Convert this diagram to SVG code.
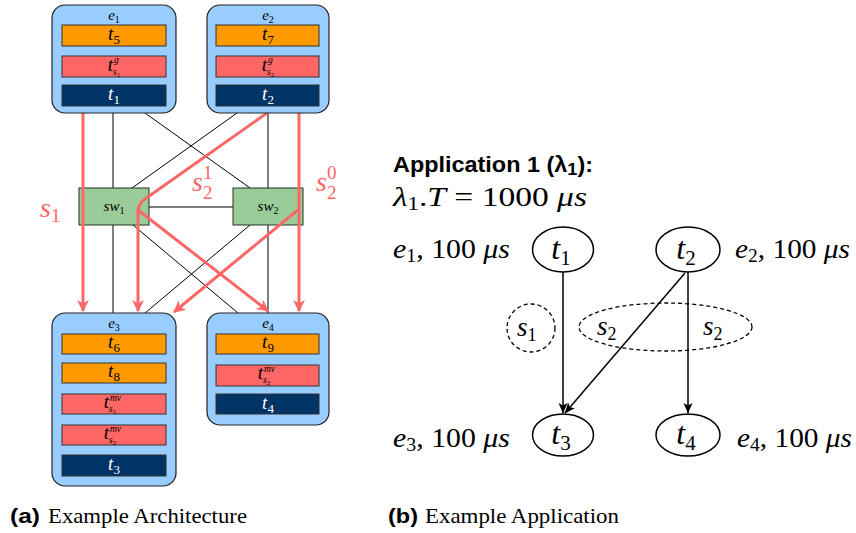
<svg xmlns="http://www.w3.org/2000/svg" width="856" height="533" viewBox="0 0 856 533">
<defs>
<marker id="redArrow" markerUnits="userSpaceOnUse" markerWidth="14" markerHeight="14" viewBox="0 0 14 14" refX="12" refY="7" orient="auto">
<path d="M1,1 L13,7 L1,13 L4.5,7 z" fill="#ff6666"/>
</marker>
<marker id="blkArrow" markerUnits="userSpaceOnUse" markerWidth="12" markerHeight="12" viewBox="0 0 12 12" refX="11" refY="6" orient="auto">
<path d="M1,1.5 L11.5,6 L1,10.5 L3.5,6 z" fill="#000"/>
</marker>
</defs>
<style>
.dev{fill:#99ccff;stroke:#222;stroke-width:1.2}
.bar{stroke:#333;stroke-width:1}
.or{fill:#ff9900}
.rd{fill:#ff6666}
.nv{fill:#003366}
.sw{fill:#99cc99;stroke:#223322;stroke-width:1}
.link{stroke:#000;stroke-width:1;fill:none}
.flow{stroke:#ff6666;stroke-width:3;fill:none}
.m{font-family:"Liberation Serif",serif;font-style:italic}
.u{font-style:normal}
.lbl{font-family:"Liberation Serif",serif;font-style:italic;font-size:19px;text-anchor:middle;fill:#000}
.elbl{font-family:"Liberation Serif",serif;font-style:italic;font-size:15px;text-anchor:middle}
.tl{font-family:"Liberation Serif",serif;font-style:italic;font-size:19px;text-anchor:end}
.sc{font-family:"Liberation Serif",serif;font-style:italic;font-size:9.5px}
.wl{fill:#fff}
.red{fill:#ff6666}
.node{fill:#fff;stroke:#000;stroke-width:1.5}
.edge{stroke:#000;stroke-width:1.5;fill:none}
.dash{fill:none;stroke:#000;stroke-width:1.3;stroke-dasharray:4,3}
</style>

<g id="connectors">
<line class="link" x1="113" y1="113" x2="113" y2="188"/>
<line class="link" x1="113" y1="225" x2="113" y2="313"/>
<line class="link" x1="268" y1="113" x2="268" y2="188"/>
<line class="link" x1="268" y1="225" x2="268" y2="313"/>
<line class="link" x1="145" y1="113" x2="250" y2="188"/>
<line class="link" x1="237" y1="113" x2="132" y2="188"/>
<line class="link" x1="149" y1="207" x2="233" y2="207"/>
<line class="link" x1="133" y1="225" x2="238" y2="313"/>
<line class="link" x1="250" y1="225" x2="145" y2="313"/>
</g>

<g id="sw1"><rect class="sw" x="79" y="188" width="70" height="37"/><text class="m" x="114" y="211" font-size="15" text-anchor="middle">sw<tspan dy="3" font-size="10" class="u">1</tspan></text></g>
<g id="sw2"><rect class="sw" x="233" y="188" width="70" height="37"/><text class="m" x="268" y="211" font-size="15" text-anchor="middle">sw<tspan dy="3" font-size="10" class="u">2</tspan></text></g>

<g id="flows">
<line class="flow" x1="83" y1="113" x2="83" y2="311" marker-end="url(#redArrow)"/>
<line class="flow" x1="299" y1="113" x2="299" y2="311" marker-end="url(#redArrow)"/>
<path class="flow" d="M267,113 L145,199 Q138,204 138,212 L138,311" marker-end="url(#redArrow)"/>
<line class="flow" x1="138" y1="210" x2="268" y2="311" marker-end="url(#redArrow)"/>
<line class="flow" x1="299" y1="209" x2="174" y2="312" marker-end="url(#redArrow)"/>
<text class="m red" x="40" y="217" font-size="28">s<tspan class="u" dy="5" font-size="19">1</tspan></text>
<text class="m red" x="192" y="191" font-size="28">s<tspan class="u" dy="-12" font-size="19">1</tspan><tspan class="u" dx="-9.5" dy="20" font-size="19">2</tspan></text>
<text class="m red" x="316" y="191" font-size="28">s<tspan class="u" dy="-12" font-size="19">0</tspan><tspan class="u" dx="-9.5" dy="20" font-size="19">2</tspan></text>
</g>

<g id="e1">
<rect class="dev" x="52" y="5" width="124" height="108" rx="13"/>
<text class="elbl" x="114" y="20">e<tspan class="u" dy="3" font-size="10">1</tspan></text>
<rect class="bar or" x="62" y="25" width="104" height="21"/>
<text class="lbl" x="114" y="40">t<tspan class="u" dy="4" font-size="13">5</tspan></text>
<rect class="bar rd" x="62" y="56" width="104" height="21"/>
<text class="tl" x="113" y="71">t</text><text class="sc" x="114" y="63">g</text><text class="sc" x="113" y="74.5">s<tspan class="u" dy="2" font-size="7">1</tspan></text>
<rect class="bar nv" x="62" y="85" width="104" height="21"/>
<text class="lbl wl" x="114" y="100">t<tspan class="u" dy="4" font-size="13">1</tspan></text>
</g>

<g id="e2">
<rect class="dev" x="207" y="5" width="122" height="108" rx="13"/>
<text class="elbl" x="268" y="20">e<tspan class="u" dy="3" font-size="10">2</tspan></text>
<rect class="bar or" x="216" y="25" width="103" height="21"/>
<text class="lbl" x="268" y="40">t<tspan class="u" dy="4" font-size="13">7</tspan></text>
<rect class="bar rd" x="216" y="56" width="103" height="21"/>
<text class="tl" x="267" y="71">t</text><text class="sc" x="268" y="63">g</text><text class="sc" x="267" y="74.5">s<tspan class="u" dy="2" font-size="7">2</tspan></text>
<rect class="bar nv" x="216" y="85" width="103" height="21"/>
<text class="lbl wl" x="268" y="100">t<tspan class="u" dy="4" font-size="13">2</tspan></text>
</g>

<g id="e3">
<rect class="dev" x="52" y="313" width="124" height="173" rx="13"/>
<text class="elbl" x="114" y="328">e<tspan class="u" dy="3" font-size="10">3</tspan></text>
<rect class="bar or" x="62" y="334" width="104" height="20"/>
<text class="lbl" x="114" y="348">t<tspan class="u" dy="4" font-size="13">6</tspan></text>
<rect class="bar or" x="62" y="363" width="104" height="20"/>
<text class="lbl" x="114" y="377">t<tspan class="u" dy="4" font-size="13">8</tspan></text>
<rect class="bar rd" x="62" y="394" width="104" height="20"/>
<text class="tl" x="109" y="408">t</text><text class="sc" x="110" y="401">mv</text><text class="sc" x="109" y="412">s<tspan class="u" dy="2" font-size="7">1</tspan></text>
<rect class="bar rd" x="62" y="425" width="104" height="20"/>
<text class="tl" x="109" y="439">t</text><text class="sc" x="110" y="432">mv</text><text class="sc" x="109" y="443">s<tspan class="u" dy="2" font-size="7">2</tspan></text>
<rect class="bar nv" x="62" y="455" width="104" height="21"/>
<text class="lbl wl" x="114" y="470">t<tspan class="u" dy="4" font-size="13">3</tspan></text>
</g>

<g id="e4">
<rect class="dev" x="207" y="313" width="122" height="112" rx="13"/>
<text class="elbl" x="268" y="328">e<tspan class="u" dy="3" font-size="10">4</tspan></text>
<rect class="bar or" x="216" y="334" width="103" height="20"/>
<text class="lbl" x="268" y="348">t<tspan class="u" dy="4" font-size="13">9</tspan></text>
<rect class="bar rd" x="216" y="365" width="103" height="21"/>
<text class="tl" x="263" y="379">t</text><text class="sc" x="264" y="372">mv</text><text class="sc" x="263" y="383">s<tspan class="u" dy="2" font-size="7">2</tspan></text>
<rect class="bar nv" x="216" y="394" width="103" height="20"/>
<text class="lbl wl" x="268" y="409">t<tspan class="u" dy="4" font-size="13">4</tspan></text>
</g>

<g id="title">
<text x="393" y="172" font-family="'Liberation Sans',sans-serif" font-weight="bold" font-size="22" textLength="200" lengthAdjust="spacingAndGlyphs">Application 1 (λ<tspan dy="3" font-size="17">1</tspan><tspan dy="-3">):</tspan></text>
<text class="m" x="393" y="206" font-size="28" textLength="194" lengthAdjust="spacingAndGlyphs">λ<tspan class="u" dy="4" font-size="19">1</tspan><tspan class="u" dy="-4">.</tspan>T<tspan class="u"> = 1000 </tspan>μs</text>
</g>

<g id="app-connectors">
<line class="edge" x1="563" y1="272" x2="563" y2="413" marker-end="url(#blkArrow)"/>
<line class="edge" x1="688" y1="272" x2="688" y2="413" marker-end="url(#blkArrow)"/>
<line class="edge" x1="685" y1="273" x2="565" y2="413" marker-end="url(#blkArrow)"/>
</g>

<g id="s1grp"><ellipse class="dash" cx="531" cy="328" rx="24" ry="24"/><text class="m" x="517" y="336" font-size="27">s<tspan class="u" dy="5" font-size="18">1</tspan></text></g>
<g id="s2grp"><ellipse class="dash" cx="665.5" cy="327" rx="86.5" ry="24"/>
<text class="m" x="597" y="335" font-size="27">s<tspan class="u" dy="5" font-size="18">2</tspan></text>
<text class="m" x="703" y="335" font-size="27">s<tspan class="u" dy="5" font-size="18">2</tspan></text></g>

<g id="t1"><ellipse class="node" cx="563" cy="249.5" rx="30.5" ry="22.5"/><text class="m" x="561" y="259" font-size="32" text-anchor="middle">t<tspan class="u" dy="6" font-size="21">1</tspan></text></g>
<g id="t2"><ellipse class="node" cx="688" cy="249.5" rx="32" ry="22.5"/><text class="m" x="686" y="259" font-size="32" text-anchor="middle">t<tspan class="u" dy="6" font-size="21">2</tspan></text></g>
<g id="t3"><ellipse class="node" cx="563" cy="435" rx="30.5" ry="21"/><text class="m" x="561" y="444" font-size="32" text-anchor="middle">t<tspan class="u" dy="6" font-size="21">3</tspan></text></g>
<g id="t4"><ellipse class="node" cx="688" cy="435" rx="32" ry="21"/><text class="m" x="686" y="444" font-size="32" text-anchor="middle">t<tspan class="u" dy="6" font-size="21">4</tspan></text></g>

<g id="labels">
<text class="m" x="393" y="258" font-size="27" textLength="117" lengthAdjust="spacingAndGlyphs">e<tspan class="u" dy="4" font-size="18">1</tspan><tspan class="u" dy="-4">, 100 </tspan>μs</text>
<text class="m" x="735" y="258" font-size="27" textLength="115" lengthAdjust="spacingAndGlyphs">e<tspan class="u" dy="4" font-size="18">2</tspan><tspan class="u" dy="-4">, 100 </tspan>μs</text>
<text class="m" x="393" y="447" font-size="27" textLength="117" lengthAdjust="spacingAndGlyphs">e<tspan class="u" dy="4" font-size="18">3</tspan><tspan class="u" dy="-4">, 100 </tspan>μs</text>
<text class="m" x="737" y="447" font-size="27" textLength="115" lengthAdjust="spacingAndGlyphs">e<tspan class="u" dy="4" font-size="18">4</tspan><tspan class="u" dy="-4">, 100 </tspan>μs</text>
</g>

<g id="captions">
<text x="10" y="523" font-family="'Liberation Sans',sans-serif" font-weight="bold" font-size="20" textLength="30" lengthAdjust="spacingAndGlyphs">(a)</text>
<text x="48" y="523" font-family="'Liberation Serif',serif" font-size="22" textLength="199" lengthAdjust="spacingAndGlyphs">Example Architecture</text>
<text x="388" y="523" font-family="'Liberation Sans',sans-serif" font-weight="bold" font-size="20" textLength="30" lengthAdjust="spacingAndGlyphs">(b)</text>
<text x="425" y="523" font-family="'Liberation Serif',serif" font-size="22" textLength="194" lengthAdjust="spacingAndGlyphs">Example Application</text>
</g>
</svg>
